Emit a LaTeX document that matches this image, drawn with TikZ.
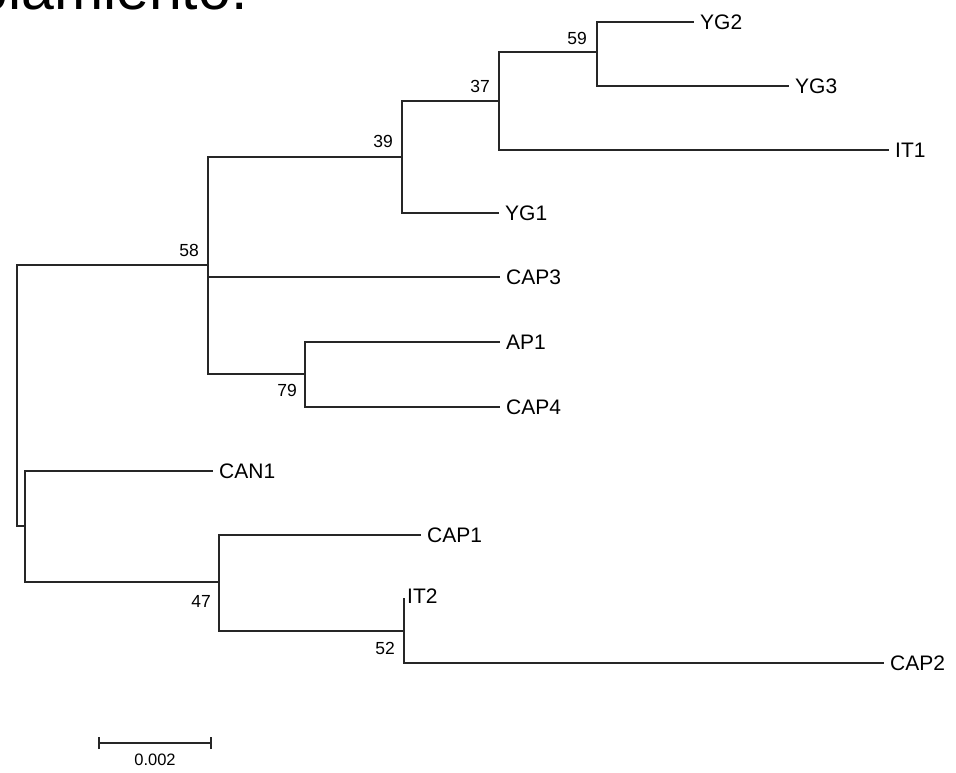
\documentclass[tikz,border=0pt]{standalone}
\usepackage{fontspec}
\setmainfont{Liberation Sans}
\begin{document}
\begin{tikzpicture}[x=1pt,y=-1pt,
  br/.style={line width=1.5pt,draw=black!85},
  leaf/.style={anchor=west,inner xsep=6pt,inner ysep=0pt,font=\fontsize{21}{21}\selectfont},
  boot/.style={inner sep=0pt,font=\fontsize{17.5}{17.5}\selectfont},
  title/.style={anchor=base west,inner sep=0pt,font=\fontsize{59}{59}\selectfont}]
\useasboundingbox (0,0) rectangle (956,772);
\begin{scope}
\clip (0,0) rectangle (956,772);
\node[title] (ttl) at (-120,9) {acoplamiento.};
\end{scope}
% internal nodes
\coordinate (root) at (17,400);
\coordinate (n58) at (208,265);
\coordinate (n39) at (402,157);
\coordinate (n37) at (499,101);
\coordinate (n59) at (597,52);
\coordinate (n79) at (305,374);
\coordinate (nB) at (25,526);
\coordinate (n47) at (219,582);
\coordinate (n52) at (404,631);
\coordinate (it2end) at (404,598);
% leaves
\node[leaf] (YG2) at (694,22) {YG2};
\node[leaf] (YG3) at (789,86) {YG3};
\node[leaf] (IT1) at (889,150) {IT1};
\node[leaf] (YG1) at (499,213) {YG1};
\node[leaf] (CAP3) at (500,277) {CAP3};
\node[leaf] (AP1) at (500,342) {AP1};
\node[leaf] (CAP4) at (500,407) {CAP4};
\node[leaf] (CAN1) at (213,471) {CAN1};
\node[leaf] (CAP1) at (421,535) {CAP1};
\node[leaf,inner xsep=3pt] (IT2) at (404,596) {IT2};
\node[leaf] (CAP2) at (884,663) {CAP2};
% branches
\draw[br] (root) |- (n58);
\draw[br] (root) |- (nB);
\draw[br] (n58) |- (n39);
\draw[br] (n58) |- (CAP3.west);
\draw[br] (n58) |- (n79);
\draw[br] (n39) |- (n37);
\draw[br] (n39) |- (YG1.west);
\draw[br] (n37) |- (n59);
\draw[br] (n37) |- (IT1.west);
\draw[br] (n59) |- (YG2.west);
\draw[br] (n59) |- (YG3.west);
\draw[br] (n79) |- (AP1.west);
\draw[br] (n79) |- (CAP4.west);
\draw[br] (nB) |- (CAN1.west);
\draw[br] (nB) |- (n47);
\draw[br] (n47) |- (CAP1.west);
\draw[br] (n47) |- (n52);
\draw[br] (n52) -- (it2end);
\draw[br] (n52) |- (CAP2.west);
% bootstrap values
\node[boot,anchor=south east] (b59) at (587,45) {59};
\node[boot,anchor=south east] (b37) at (490,93) {37};
\node[boot,anchor=south east] (b39) at (393,148) {39};
\node[boot,anchor=south east] (b58) at (199,257) {58};
\node[boot,anchor=north east] (b79) at (297,384) {79};
\node[boot,anchor=north east] (b47) at (211,595) {47};
\node[boot,anchor=north east] (b52) at (395,642) {52};
% scale bar
\coordinate (sbL) at (99,743);
\coordinate (sbR) at (211,743);
\draw[br] (sbL) -- (sbR);
\draw[br] ([yshift=-6pt]sbL) -- ([yshift=6pt]sbL);
\draw[br] ([yshift=-6pt]sbR) -- ([yshift=6pt]sbR);
\node[inner sep=0pt,anchor=north,font=\fontsize{16.5}{16.5}\selectfont] (sblab) at (155,754) {0.002};
\end{tikzpicture}
\end{document}
